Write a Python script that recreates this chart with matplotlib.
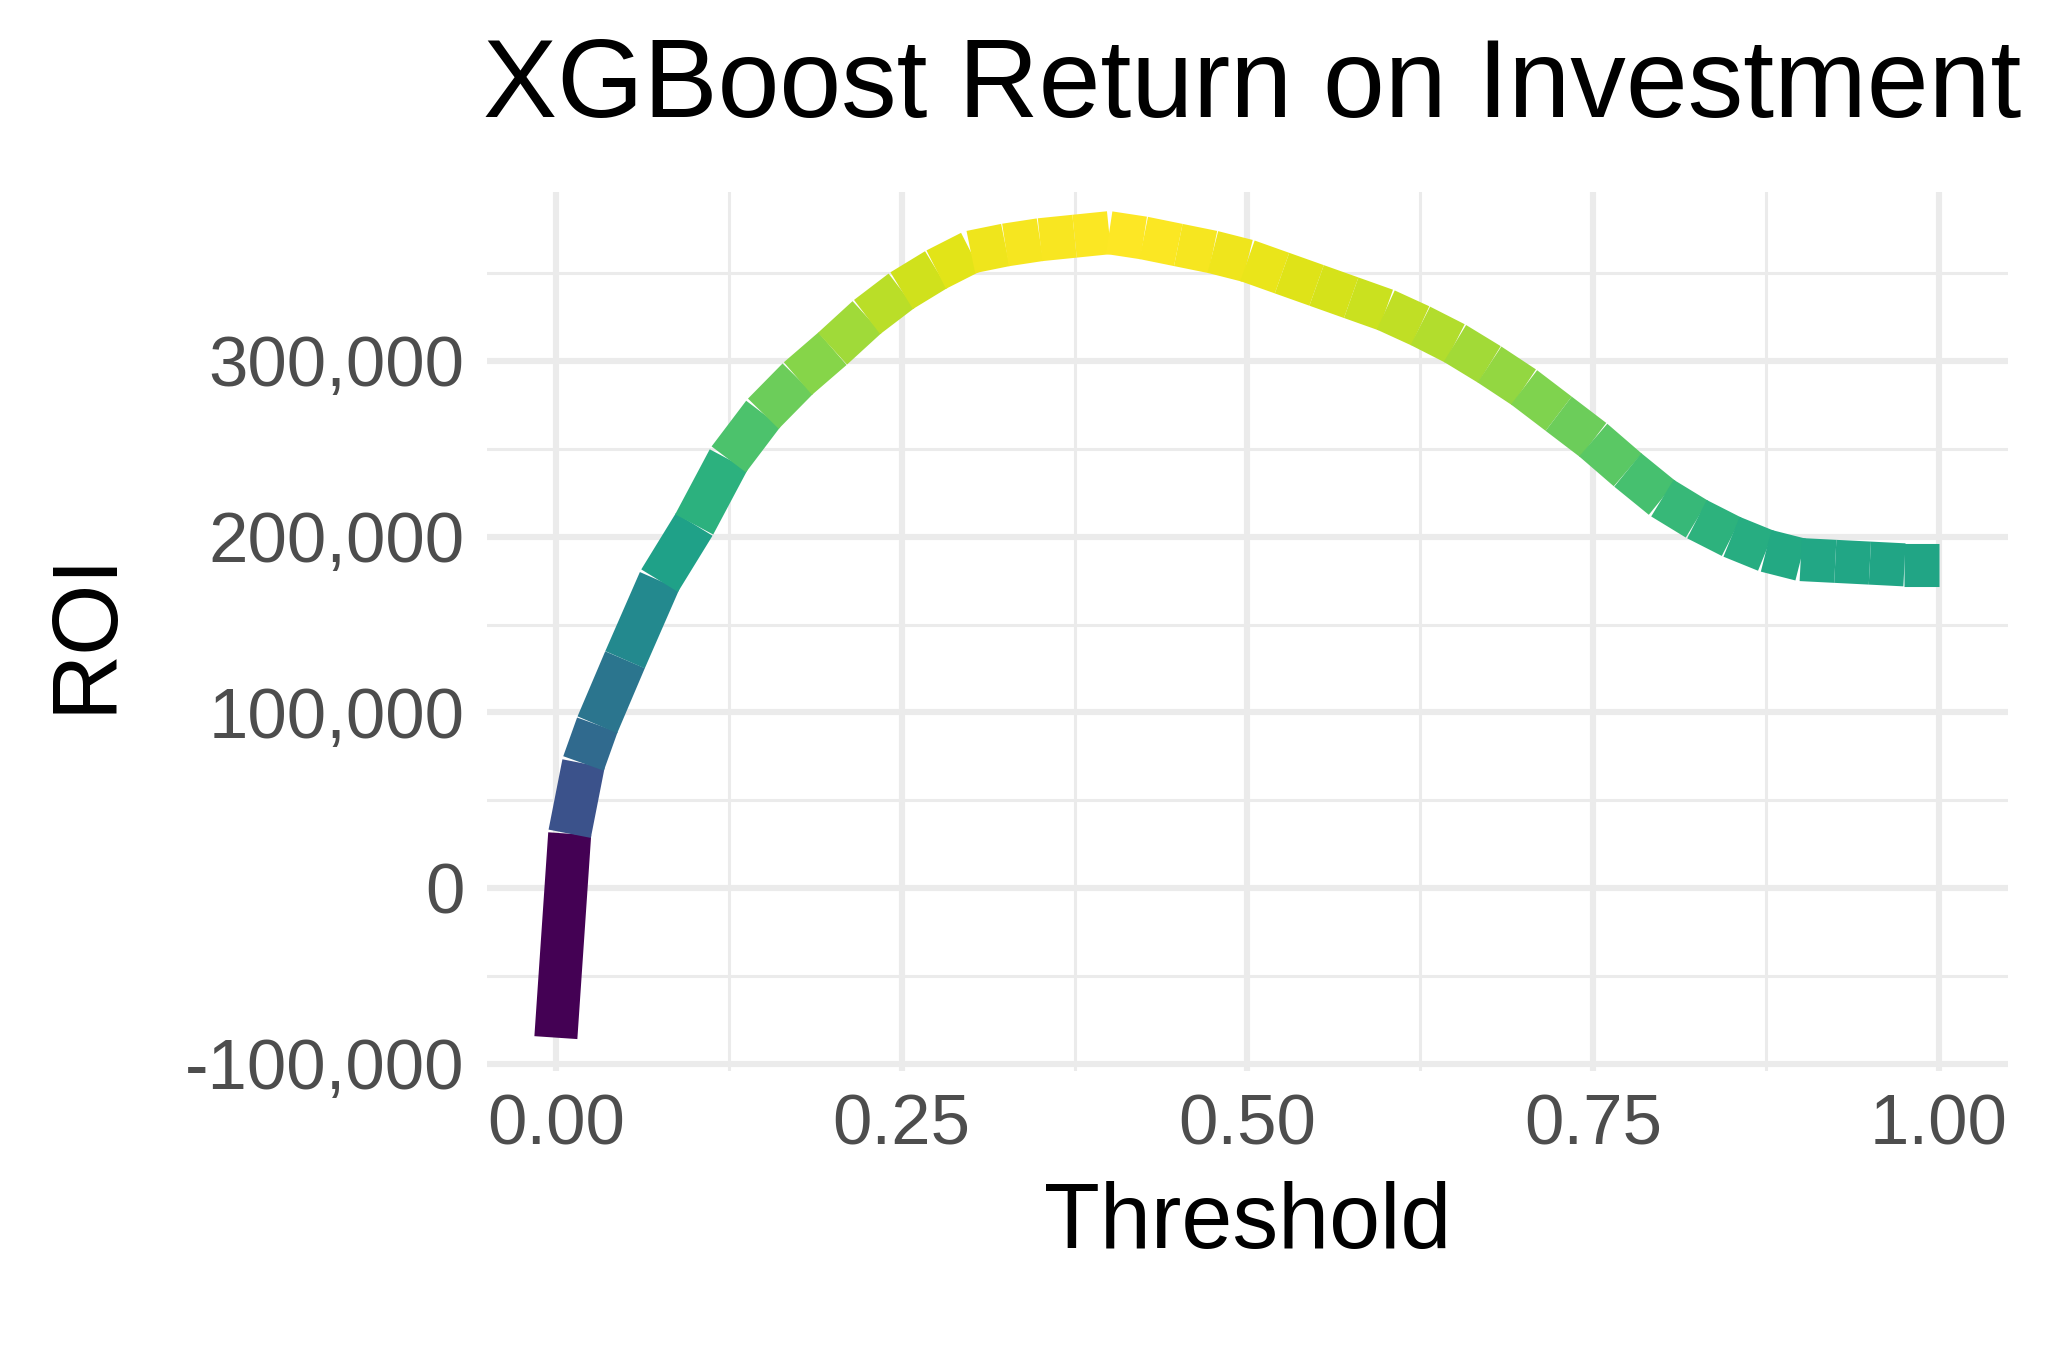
import numpy as np
import matplotlib
matplotlib.use('Agg')
from matplotlib import pyplot as plt
from matplotlib.collections import LineCollection
from matplotlib.ticker import FuncFormatter

thresholds = [0, 0.01, 0.02, 0.03, 0.05, 0.075, 0.1, 0.125, 0.15, 0.175, 0.2, 0.225, 0.25,
              0.275, 0.3, 0.325, 0.35, 0.375, 0.4, 0.425, 0.45, 0.475, 0.5, 0.525, 0.55,
              0.575, 0.6, 0.625, 0.65, 0.675, 0.7, 0.725, 0.75, 0.775, 0.8, 0.825, 0.85,
              0.875, 0.9, 0.925, 0.95, 0.975, 1.0]
roi = [-85000, 31000, 71000, 93000, 130000, 175000, 207000, 244000, 270000, 290000, 307000,
       325000, 340000, 352000, 362000, 366000, 369000, 371000, 373000, 370000, 366000, 362000,
       357000, 350000, 343000, 336000, 329000, 320000, 310000, 298000, 285000, 270000, 255000,
       238000, 222000, 210000, 200000, 192000, 187000, 186000, 185000, 184000, 184000]

plt.rcParams['font.family'] = ['Liberation Sans', 'DejaVu Sans']

fig = plt.figure(figsize=(10.225, 6.77), dpi=200)
ax = fig.add_axes([0.238, 0.209, 0.744, 0.649])

x = np.array(thresholds)
y = np.array(roi)
pts = np.column_stack([x, y]).reshape(-1, 1, 2)
segs = np.concatenate([pts[:-1], pts[1:]], axis=1)
lc = LineCollection(segs, cmap='viridis', norm=plt.Normalize(y.min(), y.max()),
                    linewidths=15.5, capstyle='butt', zorder=3)
lc.set_array(y[:-1])
ax.add_collection(lc)

ax.set_xlim(-0.05, 1.05)
ax.set_ylim(-104000, 396000)
ax.set_xticks([0, 0.25, 0.5, 0.75, 1.0])
ax.set_xticks([0.125, 0.375, 0.625, 0.875], minor=True)
ax.set_yticks([-100000, 0, 100000, 200000, 300000])
ax.set_yticks([-50000, 50000, 150000, 250000, 350000], minor=True)
ax.xaxis.set_major_formatter(FuncFormatter(lambda v, p: f'{v:.2f}'))
ax.yaxis.set_major_formatter(FuncFormatter(lambda v, p: f'{int(v):,}'))
ax.grid(True, which='major', color='#EBEBEB', linewidth=2.2, zorder=0)
ax.grid(True, which='minor', color='#EBEBEB', linewidth=1.1, zorder=0)
ax.set_axisbelow(True)
for s in ax.spines.values():
    s.set_visible(False)
ax.tick_params(which='both', length=0, labelsize=25.5, labelcolor='#4D4D4D', pad=8)

ax.set_xlabel('Threshold', fontsize=33, labelpad=8)
ax.set_ylabel('ROI', fontsize=33, labelpad=20)
fig.text(0.236, 0.935, 'XGBoost Return on Investment', fontsize=40, va='center', ha='left')

fig.savefig('out.png', dpi=200, facecolor='white')
